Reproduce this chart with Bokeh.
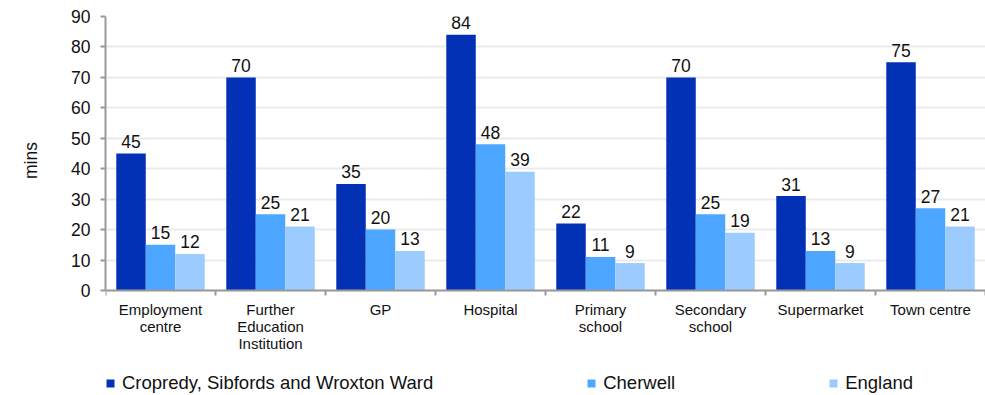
from bokeh.plotting import figure
from bokeh.layouts import row
from bokeh.models import (ColumnDataSource, FixedTicker, CustomJSTickFormatter,
                          Legend, LegendItem, Range1d, Label)
from bokeh.core.properties import value
from bokeh.embed import file_html
from bokeh.resources import INLINE

# Travel time to key services, minutes
categories = ["Employment centre", "Further Education Institution", "GP", "Hospital",
              "Primary school", "Secondary school", "Supermarket", "Town centre"]
category_labels = ["Employment\ncentre", "Further\nEducation\nInstitution", "GP", "Hospital",
                   "Primary\nschool", "Secondary\nschool", "Supermarket", "Town centre"]
series_names = ["Cropredy, Sibfords and Wroxton Ward", "Cherwell", "England"]
ward = [45, 70, 35, 84, 22, 70, 31, 75]
cherwell = [15, 25, 20, 48, 11, 25, 13, 27]
england = [12, 21, 13, 39, 9, 19, 9, 21]
y_ticks = [0, 10, 20, 30, 40, 50, 60, 70, 80, 90]
y_title = "mins"

colors = ["#0331B5", "#4DA6FF", "#9CCBFF"]
FONT = "Liberation Sans"

# Narrow strip on the left that carries the y-axis title
side = figure(width=50, height=395, frame_width=50, frame_height=395,
              output_backend="svg", toolbar_location=None,
              x_range=Range1d(0, 1), y_range=Range1d(0, 1),
              x_axis_location=None, y_axis_location=None,
              min_border_left=0, min_border_right=0, min_border_top=0,
              min_border_bottom=0)
side.outline_line_color = None
side.xgrid.visible = False
side.ygrid.visible = False
side.add_layout(Label(x=30, y=251, x_units="screen", y_units="screen", text=y_title,
                      angle=90, angle_units="deg", text_align="center",
                      text_baseline="middle", text_font=FONT,
                      text_font_size="17.5px", text_color="#111111"))

# The plotting area reaches below zero so the category labels and the
# legend row sit inside it, under an x axis pinned at y = 0.
p = figure(width=935, height=395, frame_width=880, frame_height=379,
           output_backend="svg", toolbar_location=None,
           x_range=Range1d(0, len(categories)), y_range=Range1d(-34.5, 90),
           min_border_left=55, min_border_right=0, min_border_top=16,
           min_border_bottom=0)
p.outline_line_color = None
p.background_fill_color = "white"
p.border_fill_color = "white"

bar_w = 0.268
offsets = [-bar_w, 0.0, bar_w]
items = []
for name, vals, off, col in zip(series_names, [ward, cherwell, england], offsets, colors):
    src = ColumnDataSource(dict(
        x=[i + 0.5 + off for i in range(len(categories))],
        top=vals,
        label=[str(v) for v in vals],
    ))
    r = p.vbar(x="x", top="top", width=bar_w, bottom=0, source=src,
               fill_color=col, line_color=None)
    p.text(x="x", y="top", text="label", source=src, text_align="center",
           text_baseline="alphabetic", y_offset=-12, text_font_size="17.5px",
           text_font=value(FONT), text_color="#111111")
    items.append(LegendItem(label=name, renderers=[r]))

# x axis: labels at category centres, tick marks at category boundaries
xa = p.xaxis[0]
xa.fixed_location = 0
xa.ticker = FixedTicker(ticks=[i + 0.5 for i in range(len(categories))],
                        minor_ticks=list(range(len(categories) + 1)))
xa.formatter = CustomJSTickFormatter(args=dict(labels=category_labels),
                                     code="return labels[Math.floor(tick)]")
xa.major_tick_line_color = None
xa.minor_tick_line_color = "#9a9a9a"
xa.minor_tick_line_width = 2
xa.minor_tick_out = 5
xa.minor_tick_in = 0
xa.axis_line_color = "#9a9a9a"
xa.axis_line_width = 2
xa.major_label_text_font = FONT
xa.major_label_text_font_size = "15px"
xa.major_label_text_line_height = 1.0
xa.major_label_text_color = "#111111"
xa.major_label_standoff = 5

ya = p.yaxis[0]
ya.bounds = (0, 90)
ya.ticker = FixedTicker(ticks=y_ticks)
ya.minor_tick_line_color = None
ya.major_tick_line_color = "#9a9a9a"
ya.major_tick_line_width = 2
ya.major_tick_out = 5
ya.major_tick_in = 0
ya.axis_line_color = "#9a9a9a"
ya.axis_line_width = 2
ya.major_label_text_font = FONT
ya.major_label_text_font_size = "17.5px"
ya.major_label_text_color = "#111111"
ya.major_label_standoff = 10

p.xgrid.grid_line_color = None
p.ygrid.grid_line_color = "#ebebeb"
p.ygrid.grid_line_width = 2

legend = Legend(items=items, orientation="horizontal", location=(0, 1),
                spacing=153, padding=0, margin=0, border_line_color=None,
                background_fill_alpha=0, glyph_width=10, glyph_height=10,
                label_height=20, label_standoff=7, label_text_font=FONT,
                label_text_font_size="18.5px", label_text_color="#111111")
p.add_layout(legend, "center")

layout = row(side, p, spacing=0)
open("out.html", "w").write(file_html(layout, INLINE))
